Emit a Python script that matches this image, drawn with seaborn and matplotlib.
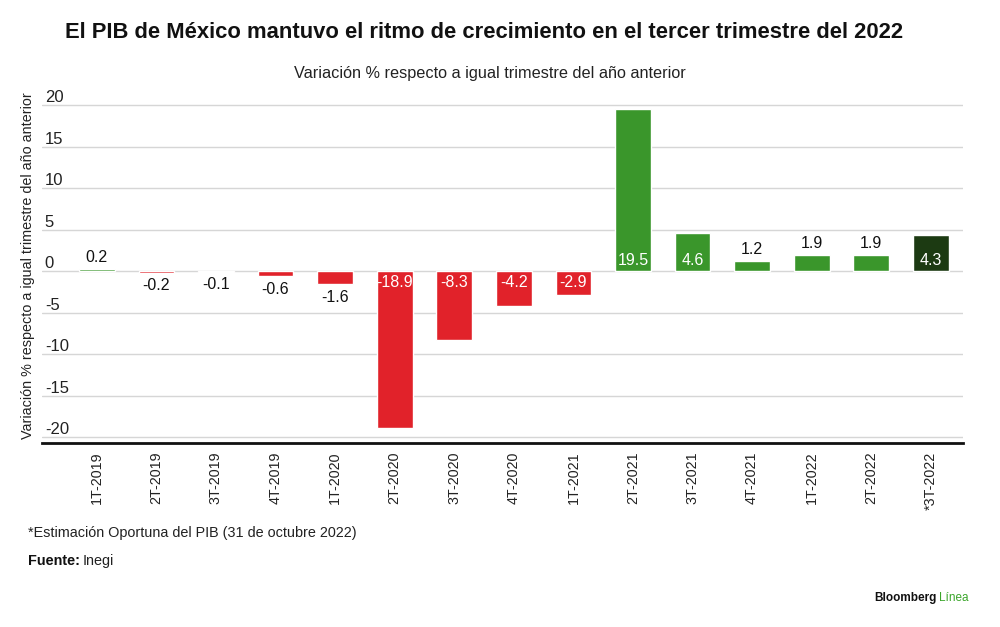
import matplotlib
matplotlib.use("Agg")
import matplotlib.pyplot as plt
import seaborn as sns

# Data
quarters = ["1T-2019", "2T-2019", "3T-2019", "4T-2019", "1T-2020", "2T-2020", "3T-2020",
            "4T-2020", "1T-2021", "2T-2021", "3T-2021", "4T-2021", "1T-2022", "2T-2022", "*3T-2022"]
growth = [0.2, -0.2, -0.1, -0.6, -1.6, -18.9, -8.3, -4.2, -2.9, 19.5, 4.6, 1.2, 1.9, 1.9, 4.3]
yticks = [-20, -15, -10, -5, 0, 5, 10, 15, 20]

RED = "#e1222a"
GREEN = "#3a962b"
DARK = "#1c3a12"
bar_colors = [RED if v < 0 else GREEN for v in growth]
bar_colors[-1] = DARK  # preliminary estimate

sns.set_theme(style="white")
plt.rcParams["font.family"] = ["Liberation Sans", "DejaVu Sans"]
plt.rcParams["axes.unicode_minus"] = False

fig = plt.figure(figsize=(10, 6.27), dpi=100)
ax = fig.add_axes([0.042, 0.2935, 0.921, 0.547])

sns.barplot(x=quarters, y=growth, hue=quarters, palette=bar_colors, legend=False,
            width=0.6, saturation=1, ax=ax)

ax.set_xlim(-0.92, 14.54)
ax.set_ylim(-20.7, 20.6)
ax.set_yticks(yticks)
ax.grid(axis="y", color="#d6d6d6", linewidth=1)
ax.set_axisbelow(True)
for s in ["top", "right", "left"]:
    ax.spines[s].set_visible(False)
ax.spines["bottom"].set_color("#111111")
ax.spines["bottom"].set_linewidth(2)
ax.set_xlabel("")
ax.set_ylabel("")

# y labels sit inside the axes, just above each gridline
ax.tick_params(axis="y", length=0, pad=-2, labelsize=12, labelcolor="#222222")
for lbl in ax.get_yticklabels():
    lbl.set_horizontalalignment("left")
    lbl.set_verticalalignment("bottom")
ax.tick_params(axis="x", length=0, pad=6, labelsize=10.3, labelrotation=90, labelcolor="#222222")

# value labels
for i, v in enumerate(growth):
    txt = f"{v:.1f}"
    if abs(v) >= 2.5:
        if v < 0:
            ax.annotate(txt, (i, 0), xytext=(0, -3), textcoords="offset points",
                        ha="center", va="top", color="white", fontsize=11.5)
        else:
            ax.annotate(txt, (i, 0), xytext=(0, 2), textcoords="offset points",
                        ha="center", va="bottom", color="white", fontsize=11.5)
    else:
        if v < 0:
            ax.annotate(txt, (i, v), xytext=(0, -4), textcoords="offset points",
                        ha="center", va="top", color="#111111", fontsize=11.5)
        else:
            ax.annotate(txt, (i, v), xytext=(0, 3), textcoords="offset points",
                        ha="center", va="bottom", color="#111111", fontsize=11.5)

fig.text(0.028, 0.577, "Variación % respecto a igual trimestre del año anterior",
         rotation=90, ha="center", va="center", fontsize=10.4, color="#222222")
fig.text(0.065, 0.948, "El PIB de México mantuvo el ritmo de crecimiento en el tercer trimestre del 2022",
         ha="left", va="center", fontsize=15.8, fontweight="bold", color="#111111")
fig.text(0.49, 0.883, "Variación % respecto a igual trimestre del año anterior",
         ha="center", va="center", fontsize=11.7, color="#222222")

fig.text(0.028, 0.15, "*Estimación Oportuna del PIB (31 de octubre 2022)",
         ha="left", va="center", fontsize=10.4, color="#222222")
src = fig.text(0.028, 0.105, "Fuente:", ha="left", va="center", fontsize=10.4,
               fontweight="bold", color="#111111")
ax.annotate("Inegi", xy=(1, 0.5), xycoords=src, xytext=(2, 0), textcoords="offset points",
            ha="left", va="center", fontsize=10.4, color="#222222")

brand = fig.text(0.874, 0.046, "Bloomberg", ha="left", va="center", fontsize=8.5,
                 fontweight="bold", color="#111111")
ax.annotate("Línea", xy=(1, 0.5), xycoords=brand, xytext=(2, 0), textcoords="offset points",
            ha="left", va="center", fontsize=8.5, color="#3aa52a")

fig.savefig("out.png", dpi=100, facecolor="white")
